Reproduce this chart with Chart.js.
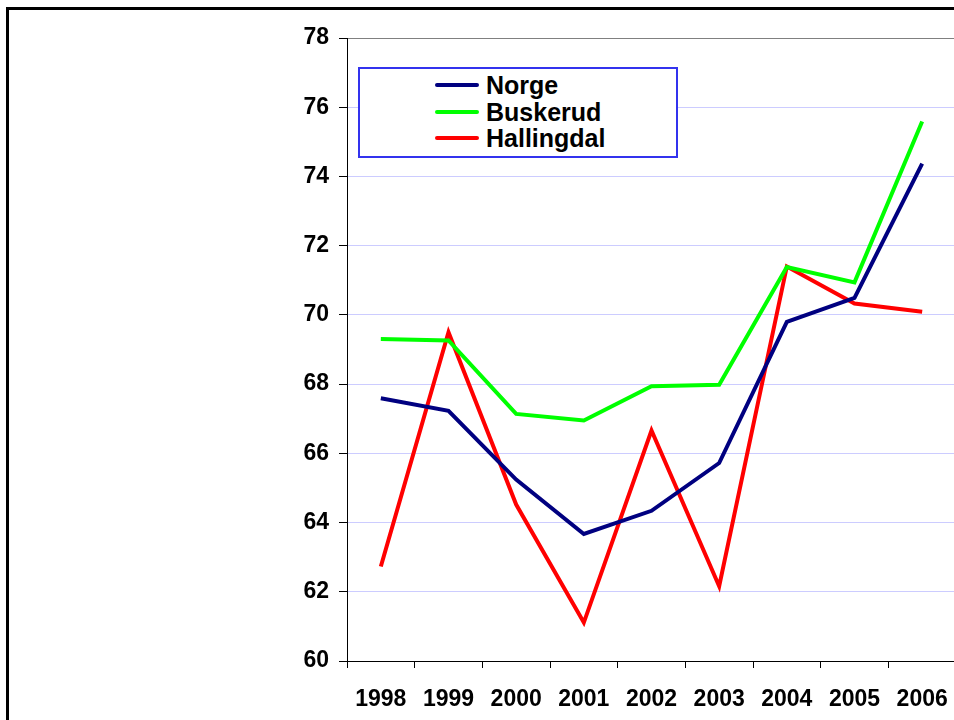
<!DOCTYPE html>
<html>
<head>
<meta charset="utf-8">
<script src="https://cdn.jsdelivr.net/npm/chart.js@4"></script>
<style>
    html, body { margin: 0; padding: 0; background: #fff; overflow: hidden; }
    body { width: 954px; height: 720px; position: relative; }
    #frame {
        position: absolute; left: 6px; top: 7px; width: 1000px; height: 800px;
        border-left: 3px solid #000; border-top: 3px solid #000;
    }
    #wrap { position: absolute; left: 0; top: 0; }
    #legend {
        position: absolute; left: 358px; top: 67px; width: 316px; height: 84px;
        border: 2px solid #3333ee; background: #fff; padding-top: 3px;
        font-family: "Liberation Sans", Arial, sans-serif; font-weight: bold; font-size: 25px;
    }
    .leg-row { position: relative; height: 26.5px; line-height: 26px; }
    .leg-line { position: absolute; left: 75px; top: 11px; width: 44px; height: 4px; border-radius: 2px; }
    .leg-text { position: absolute; left: 126px; top: 0; color: #000; white-space: nowrap; }
</style>
</head>
<body>
<div id="frame"></div>
<div id="wrap"><canvas id="chart" width="970" height="720"></canvas></div>
<div id="legend"></div>
<script>
// Aar og verdier per region
const aar = ['1998', '1999', '2000', '2001', '2002', '2003', '2004', '2005', '2006'];
const norge      = [67.59, 67.23, 65.24, 63.67, 64.34, 65.72, 69.80, 70.49, 74.37];
const buskerud   = [69.30, 69.26, 67.14, 66.95, 67.94, 67.98, 71.38, 70.94, 75.59];
const hallingdal = [62.73, 69.50, 64.52, 61.11, 66.66, 62.16, 71.40, 70.33, 70.09];
const yTicks = [60, 62, 64, 66, 68, 70, 72, 74, 76, 78];

const fontBold = { family: '"Liberation Sans", Arial, sans-serif', size: 23, weight: 'bold' };

function serie(label, data, color) {
    return {
        label: label,
        data: data,
        borderColor: color,
        backgroundColor: color,
        borderWidth: 4,
        pointRadius: 0,
        pointHoverRadius: 0,
        tension: 0,
        fill: false
    };
}

const chart = new Chart(document.getElementById('chart'), {
    type: 'line',
    data: {
        labels: aar,
        datasets: [
            serie('Norge', norge, '#000080'),
            serie('Buskerud', buskerud, '#00ff00'),
            serie('Hallingdal', hallingdal, '#ff0000')
        ]
    },
    options: {
        responsive: false,
        devicePixelRatio: 1,
        animation: false,
        events: [],
        layout: { padding: { top: 38, right: 14, left: 0, bottom: 0 } },
        plugins: {
            legend: { display: false },
            tooltip: { enabled: false }
        },
        scales: {
            x: {
                type: 'category',
                offset: true,
                afterFit: (scale) => { scale.height = 59; },
                grid: {
                    offset: true,
                    drawOnChartArea: false,
                    tickLength: 7,
                    color: '#000',
                    tickColor: '#000'
                },
                border: { color: '#000', width: 1 },
                ticks: { color: '#000', font: fontBold, padding: 18, maxRotation: 0 }
            },
            y: {
                min: 60,
                max: 78,
                afterFit: (scale) => { scale.width = 347; },
                afterBuildTicks: (scale) => { scale.ticks = yTicks.map(v => ({ value: v })); },
                grid: {
                    color: (ctx) => ctx.tick && ctx.tick.value === 78 ? '#808080' : '#ccccff',
                    lineWidth: 1,
                    tickLength: 8,
                    tickColor: '#000'
                },
                border: { color: '#000', width: 1 },
                ticks: { color: '#000', font: fontBold, padding: 10 }
            }
        }
    }
});

// Egen forklaring i boks, bygget fra datasettene
document.getElementById('legend').innerHTML = chart.data.datasets.map(ds => `
    <div class="leg-row">
        <div class="leg-line" style="background:${ds.borderColor}"></div>
        <div class="leg-text">${ds.label}</div>
    </div>
`).join('');
</script>
</body>
</html>
